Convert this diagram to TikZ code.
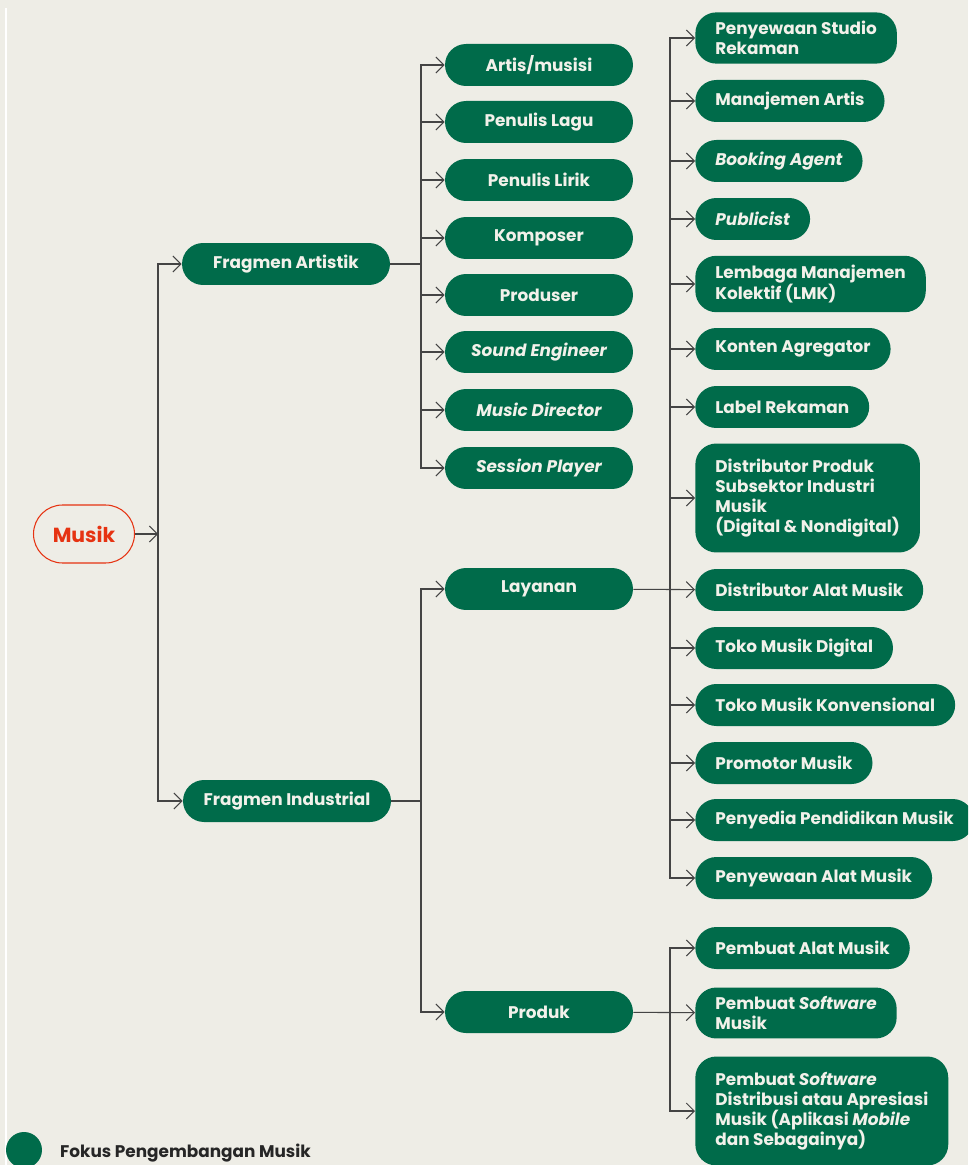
\documentclass[tikz,border=0pt]{standalone}
\usepackage{fontspec}
\setmainfont{Poppins}
\usepackage{xcolor}
\usepackage{tikz}
\usetikzlibrary{arrows.meta,positioning}

\definecolor{bgpaper}{HTML}{EEEDE6}
\definecolor{musikgreen}{HTML}{006B4A}
\definecolor{musikred}{HTML}{E63312}
\definecolor{linegray}{HTML}{444444}
\definecolor{paletext}{HTML}{F2F1EA}

\begin{document}
\begin{tikzpicture}[
    x=0.02cm, y=-0.02cm,
    root/.style={rectangle, rounded corners=0.58cm, draw=musikred, line width=0.6pt, fill=bgpaper, text=musikred, minimum width=2.02cm, minimum height=1.16cm, font=\fontsize{11.6}{13}\selectfont\bfseries},
    branch/.style={rectangle, rounded corners=0.42cm, fill=musikgreen, text=paletext, minimum width=4.16cm, minimum height=0.84cm, font=\fontsize{9.6}{11.4}\selectfont\bfseries},
    group/.style={rectangle, rounded corners=0.42cm, fill=musikgreen, text=paletext, minimum width=3.76cm, minimum height=0.84cm, font=\fontsize{9.6}{11.4}\selectfont\bfseries},
    leaf/.style={rectangle, rounded corners=0.42cm, fill=musikgreen, text=paletext, anchor=west, align=left, inner xsep=0.4cm, inner ysep=5pt, minimum height=0.84cm, font=\fontsize{9.6}{11.4}\selectfont\bfseries},
    arrow/.style={draw=linegray, line width=0.6pt, -{Straight Barb[length=1.6mm,width=3.2mm]}},
    link/.style={draw=linegray, line width=0.6pt}
]
\useasboundingbox (0,0) rectangle (968,1165);
\fill[bgpaper] (0,0) rectangle (968,1165);
\clip (0,0) rectangle (968,1165);
\draw[white, line width=0.8pt] (6,8) -- (6,1165);

% Root and fragments
\node[root] (musik) at (84,534) {Musik};
\node[branch] (artistik) at (286,264) {Fragmen Artistik};
\node[branch] (industrial) at (287,801) {Fragmen Industrial};

% Artistic column
\node[group] (artis) at (539,65) {Artis/musisi};
\node[group] (lagu) at (539,122) {Penulis Lagu};
\node[group] (lirik) at (539,180) {Penulis Lirik};
\node[group] (komposer) at (539,238) {Komposer};
\node[group] (produser) at (539,295) {Produser};
\node[group] (engineer) at (539,352) {\itshape Sound Engineer};
\node[group] (director) at (539,410) {\itshape Music Director};
\node[group] (player) at (539,468) {\itshape Session Player};

% Industrial column
\node[group] (layanan) at (539,589) {Layanan};
\node[group] (produk) at (539,1012) {Produk};

% Layanan leaves
\node[leaf] (studio) at (695,38) {Penyewaan Studio\\Rekaman};
\node[leaf] (manajemen) at (695,101) {Manajemen Artis};
\node[leaf] (booking) at (695,161) {\itshape Booking Agent};
\node[leaf] (publicist) at (695,219) {\itshape Publicist};
\node[leaf] (lmk) at (695,284) {Lembaga Manajemen\\Kolektif (LMK)};
\node[leaf] (agregator) at (695,349) {Konten Agregator};
\node[leaf] (label) at (695,407) {Label Rekaman};
\node[leaf, minimum height=2.18cm] (distprod) at (695,498) {Distributor Produk\\Subsektor Industri\\Musik\\(Digital \& Nondigital)};
\node[leaf] (distalat) at (695,590) {Distributor Alat Musik};
\node[leaf] (digital) at (695,648) {Toko Musik Digital};
\node[leaf] (konvensional) at (695,705) {Toko Musik Konvensional};
\node[leaf] (promotor) at (695,763) {Promotor Musik};
\node[leaf] (pendidikan) at (695,820) {Penyedia Pendidikan Musik};
\node[leaf] (sewaalat) at (695,878) {Penyewaan Alat Musik};

% Produk leaves
\node[leaf] (pembuatalat) at (695,948) {Pembuat Alat Musik};
\node[leaf] (software) at (695,1013) {Pembuat \textit{Software}\\Musik};
\node[leaf, minimum height=2.18cm] (aplikasi) at (695,1111) {Pembuat \textit{Software}\\Distribusi atau Apresiasi\\Musik (Aplikasi \textit{Mobile}\\dan Sebagainya)};

% Legend
\fill[musikgreen] (24,1150) circle (0.36cm);
\node[anchor=west, text=black!85, font=\fontsize{9.6}{11}\selectfont\bfseries] (fokus) at (54,1153) {Fokus Pengembangan Musik};

% Junctions
\coordinate (jroot) at (158,534);
\coordinate (jart) at (421,264);
\coordinate (jind) at (421,801);
\coordinate (jlay) at (670,589);
\coordinate (jprod) at (670,1012);

% Arrows
\draw[arrow] (musik) -- (jroot);
\draw[arrow] (jroot) |- (artistik);
\draw[arrow] (jroot) |- (industrial);
\draw[link] (artistik) -- (jart);
\foreach \n in {artis,lagu,lirik,komposer,produser,engineer,director,player}
    \draw[arrow] (jart) |- (\n);
\draw[link] (industrial) -- (jind);
\draw[arrow] (jind) |- (layanan);
\draw[arrow] (jind) |- (produk);
\draw[arrow] (layanan) -- (distalat);
\foreach \n in {studio,manajemen,booking,publicist,lmk,agregator,label,distprod,digital,konvensional,promotor,pendidikan,sewaalat}
    \draw[arrow] (jlay) |- (\n);
\draw[arrow] (produk) -- (software);
\foreach \n in {pembuatalat,aplikasi}
    \draw[arrow] (jprod) |- (\n);

\end{tikzpicture}
\end{document}
